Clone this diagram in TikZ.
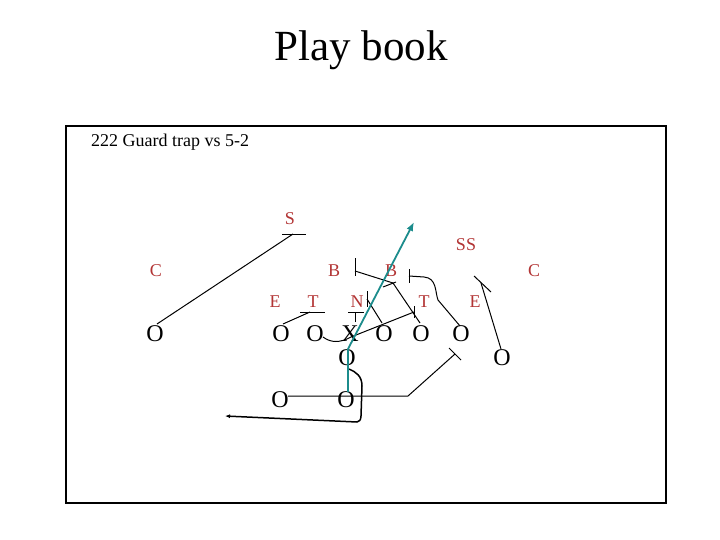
\documentclass[tikz,border=0pt]{standalone}
\usepackage{fontspec}
\setmainfont{Liberation Serif}
\usetikzlibrary{arrows.meta}
\definecolor{defred}{RGB}{178,52,52}
\definecolor{routeteal}{RGB}{28,140,140}
\begin{document}
\begin{tikzpicture}[x=1pt,y=-1pt,
  every node/.style={inner sep=0pt},
  off/.style={font=\fontsize{24}{24}\selectfont},
  dfn/.style={text=defred,font=\fontsize{18}{18}\selectfont},
  blk/.style={line width=1pt},
  run/.style={line width=1.5pt,-{Latex[length=5pt,width=4pt]}},
  tealrun/.style={draw=routeteal,line width=1.8pt,-{Latex[length=9pt,width=7pt]}}]
\useasboundingbox (0,0) rectangle (720,540);
% title and frame
\node[font=\fontsize{43}{43}\selectfont,anchor=base] (title) at (361,61) {Play book};
\draw[line width=2.2pt] (66,126) rectangle (666,503);
\node[font=\fontsize{18}{18}\selectfont,anchor=base west] (sub) at (91,147) {222 Guard trap vs 5-2};
% defense
\node[dfn] (S) at (290,219) {S};
\node[dfn] (SS) at (466,245) {SS};
\node[dfn] (CL) at (156,271) {C};
\node[dfn] (BL) at (334,271) {B};
\node[dfn] (BR) at (391,271) {B};
\node[dfn] (CR) at (534,271) {C};
\node[dfn] (EL) at (275,302) {E};
\node[dfn] (TL) at (313,302) {T};
\node[dfn] (NG) at (357,302) {N};
\node[dfn] (TR) at (424,302) {T};
\node[dfn] (ER) at (475,302) {E};
% offense
\node[off] (LE) at (155,334) {O};
\node[off] (LT) at (281,334) {O};
\node[off] (LG) at (315,334) {O};
\node[off] (CX) at (350,334) {X};
\node[off] (RG) at (384,334) {O};
\node[off] (RT) at (421,334) {O};
\node[off] (RE) at (461,334) {O};
\node[off] (QB) at (347,358) {O};
\node[off] (WB) at (502,358) {O};
\node[off] (HB) at (280,400) {O};
\node[off] (FB) at (346,400) {O};
% route points
\coordinate (s1) at (157,324); \coordinate (s2) at (293,234);
\coordinate (sa) at (282,234); \coordinate (sb) at (306,234);
\coordinate (t1) at (283,324); \coordinate (t2) at (310,312);
\coordinate (ta) at (300,312); \coordinate (tb) at (325,312);
\coordinate (n1) at (355,322); \coordinate (n2) at (355,312);
\coordinate (na) at (348,312); \coordinate (nb) at (364,312);
\coordinate (g1) at (323,337); \coordinate (g2) at (351,337); \coordinate (g3) at (414,312);
\coordinate (ga) at (414,306); \coordinate (gb) at (414,318);
\coordinate (r1) at (382,323); \coordinate (r2) at (367,299);
\coordinate (ra) at (367,291); \coordinate (rb) at (367,307);
\coordinate (k1) at (420,323); \coordinate (k2) at (393,283); \coordinate (k3) at (355,271);
\coordinate (ka) at (355,258); \coordinate (kb) at (355,276);
\coordinate (kc) at (383,287); \coordinate (kd) at (396,282);
\coordinate (e1) at (460,326); \coordinate (e2) at (438,300); \coordinate (e3) at (424,277); \coordinate (e4) at (409,276);
\coordinate (ea) at (409,269); \coordinate (eb) at (409,283);
\coordinate (w1) at (501,349); \coordinate (w2) at (481,283);
\coordinate (wa) at (474,276); \coordinate (wb) at (491,292);
\coordinate (h1) at (288,396); \coordinate (h2) at (408,396); \coordinate (h3) at (455,354);
\coordinate (ha) at (449,348); \coordinate (hb) at (461,360);
\coordinate (q1) at (349,369); \coordinate (q2) at (362,386); \coordinate (q3) at (361,416);
\coordinate (q4) at (357,422); \coordinate (q5) at (225,416);
\coordinate (p1) at (348,392); \coordinate (p2) at (348,349); \coordinate (p3) at (414,222);
% blocks
\draw[blk] (s1) -- (s2); \draw[blk] (sa) -- (sb);
\draw[blk] (t1) -- (t2); \draw[blk] (ta) -- (tb);
\draw[blk] (n1) -- (n2); \draw[blk] (na) -- (nb);
\draw[blk] (g1) .. controls (331,343) and (340,343) .. (g2) -- (g3); \draw[blk] (ga) -- (gb);
\draw[blk] (r1) -- (r2); \draw[blk] (ra) -- (rb);
\draw[blk] (k1) -- (k2) -- (k3); \draw[blk] (ka) -- (kb); \draw[blk] (kc) -- (kd);
\draw[blk] (e1) -- (e2) .. controls (435,292) and (437,278) .. (e3) -- (e4); \draw[blk] (ea) -- (eb);
\draw[blk] (w1) -- (w2); \draw[blk] (wa) -- (wb);
\draw[blk] (h1) -- (h2) -- (h3); \draw[blk] (ha) -- (hb);
% QB route
\draw[run] (q1) .. controls (356,372) and (362,376) .. (q2) -- (q3) .. controls (361,420) and (359,422) .. (q4) -- (q5);
% teal ball carrier
\draw[tealrun] (p1) -- (p2) -- (p3);
\end{tikzpicture}
\end{document}
